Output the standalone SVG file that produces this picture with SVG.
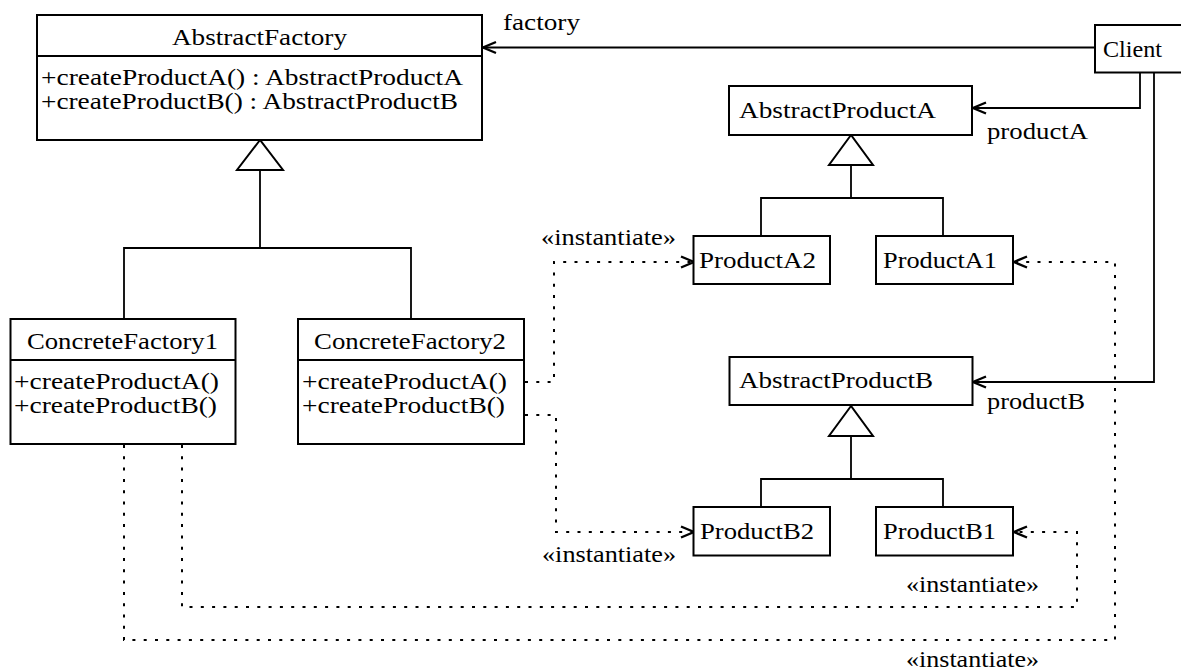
<svg xmlns="http://www.w3.org/2000/svg" width="1181" height="670" viewBox="0 0 1181 670">
  <style>
    .box { fill: #fff; stroke: #000; stroke-width: 2; }
    .sep { stroke: #000; stroke-width: 2; }
    .t { font-family: "Liberation Serif", "Times New Roman", serif; font-size: 24px; fill: #000; }
    .solid { fill: none; stroke: #000; stroke-width: 1.8; }
    .dot { fill: none; stroke: #000; stroke-width: 2; stroke-dasharray: 3 8.3; }
    .gen { fill: #fff; stroke: #000; stroke-width: 2; stroke-linejoin: miter; }
  </style>
  <defs>
    <marker id="open" markerUnits="userSpaceOnUse" markerWidth="18" markerHeight="16" viewBox="-15 -8 18 16" refX="0" refY="0" orient="auto">
      <path d="M-13,-5.5 L0,0 L-13,5.5" fill="none" stroke="#000" stroke-width="2.4" stroke-dasharray="none"/>
    </marker>
  </defs>
  <rect width="1181" height="670" fill="#fff"/>

  <!-- connectors -->
  <g id="connectors">
    <!-- inheritance: AbstractFactory -->
    <path class="solid" d="M260,170 V248 M124,319 V248 H411 V319"/>
    <polygon class="gen" points="260,140 237,170 283,170"/>
    <!-- inheritance: AbstractProductA -->
    <path class="solid" d="M851,165 V198 M761,236 V198 H943 V236"/>
    <polygon class="gen" points="851,135 829,165 873,165"/>
    <!-- inheritance: AbstractProductB -->
    <path class="solid" d="M851,436 V479 M761,507 V479 H943 V507"/>
    <polygon class="gen" points="851,406 829,436 873,436"/>
    <!-- associations from Client -->
    <path class="solid" d="M1095,47.5 H483" marker-end="url(#open)"/>
    <path class="solid" d="M1140,72 V108 H973" marker-end="url(#open)"/>
    <path class="solid" d="M1154,72 V382 H973" marker-end="url(#open)"/>
    <!-- instantiate dependencies -->
    <path class="dot" d="M525,382 H554 V262 H694" marker-end="url(#open)"/>
    <path class="dot" d="M525,415 H556 V532 H694" marker-end="url(#open)"/>
    <path class="dot" d="M182,445 V607 H1077 V532 H1014" marker-end="url(#open)"/>
    <path class="dot" d="M124,445 V640 H1115 V262 H1014" marker-end="url(#open)"/>
    <text class="t" x="503" y="30" textLength="77" lengthAdjust="spacingAndGlyphs">factory</text>
    <text class="t" x="987" y="139" textLength="101" lengthAdjust="spacingAndGlyphs">productA</text>
    <text class="t" x="987" y="409" textLength="98" lengthAdjust="spacingAndGlyphs">productB</text>
    <text class="t" x="541" y="245" textLength="135" lengthAdjust="spacingAndGlyphs">«instantiate»</text>
    <text class="t" x="542" y="562" textLength="134" lengthAdjust="spacingAndGlyphs">«instantiate»</text>
    <text class="t" x="906" y="592" textLength="133" lengthAdjust="spacingAndGlyphs">«instantiate»</text>
    <text class="t" x="906" y="667" textLength="133" lengthAdjust="spacingAndGlyphs">«instantiate»</text>
  </g>

  <g id="AbstractFactory">
    <rect class="box" x="37" y="15" width="445" height="125"/>
    <line class="sep" x1="37" y1="56" x2="482" y2="56"/>
    <text class="t" x="172" y="45" textLength="175" lengthAdjust="spacingAndGlyphs">AbstractFactory</text>
    <text class="t" x="41" y="85" textLength="422" lengthAdjust="spacingAndGlyphs">+createProductA() : AbstractProductA</text>
    <text class="t" x="41" y="109" textLength="417" lengthAdjust="spacingAndGlyphs">+createProductB() : AbstractProductB</text>
  </g>

  <g id="Client">
    <rect class="box" x="1095" y="25" width="95" height="47.5"/>
    <text class="t" x="1103" y="57" textLength="59" lengthAdjust="spacingAndGlyphs">Client</text>
  </g>

  <g id="AbstractProductA">
    <rect class="box" x="729" y="86" width="243" height="49"/>
    <text class="t" x="739" y="118" textLength="197" lengthAdjust="spacingAndGlyphs">AbstractProductA</text>
  </g>

  <g id="ProductA2">
    <rect class="box" x="693.5" y="236" width="136.5" height="48"/>
    <text class="t" x="699" y="268" textLength="117" lengthAdjust="spacingAndGlyphs">ProductA2</text>
  </g>

  <g id="ProductA1">
    <rect class="box" x="876" y="236" width="137" height="48"/>
    <text class="t" x="883" y="268" textLength="114" lengthAdjust="spacingAndGlyphs">ProductA1</text>
  </g>

  <g id="ConcreteFactory1">
    <rect class="box" x="10.5" y="319" width="225" height="125"/>
    <line class="sep" x1="10.5" y1="360" x2="235.5" y2="360"/>
    <text class="t" x="27" y="349" textLength="191" lengthAdjust="spacingAndGlyphs">ConcreteFactory1</text>
    <text class="t" x="14" y="389" textLength="205" lengthAdjust="spacingAndGlyphs">+createProductA()</text>
    <text class="t" x="14" y="413" textLength="203" lengthAdjust="spacingAndGlyphs">+createProductB()</text>
  </g>

  <g id="ConcreteFactory2">
    <rect class="box" x="298" y="319" width="226" height="125"/>
    <line class="sep" x1="298" y1="360" x2="524" y2="360"/>
    <text class="t" x="314" y="349" textLength="192" lengthAdjust="spacingAndGlyphs">ConcreteFactory2</text>
    <text class="t" x="302" y="389" textLength="205" lengthAdjust="spacingAndGlyphs">+createProductA()</text>
    <text class="t" x="302" y="413" textLength="203" lengthAdjust="spacingAndGlyphs">+createProductB()</text>
  </g>

  <g id="AbstractProductB">
    <rect class="box" x="729.5" y="357" width="243" height="48"/>
    <text class="t" x="739" y="388" textLength="194" lengthAdjust="spacingAndGlyphs">AbstractProductB</text>
  </g>

  <g id="ProductB2">
    <rect class="box" x="693.5" y="507" width="136.5" height="48.5"/>
    <text class="t" x="700" y="539" textLength="114" lengthAdjust="spacingAndGlyphs">ProductB2</text>
  </g>

  <g id="ProductB1">
    <rect class="box" x="876" y="507" width="137" height="48.5"/>
    <text class="t" x="883" y="539" textLength="113" lengthAdjust="spacingAndGlyphs">ProductB1</text>
  </g>
</svg>
